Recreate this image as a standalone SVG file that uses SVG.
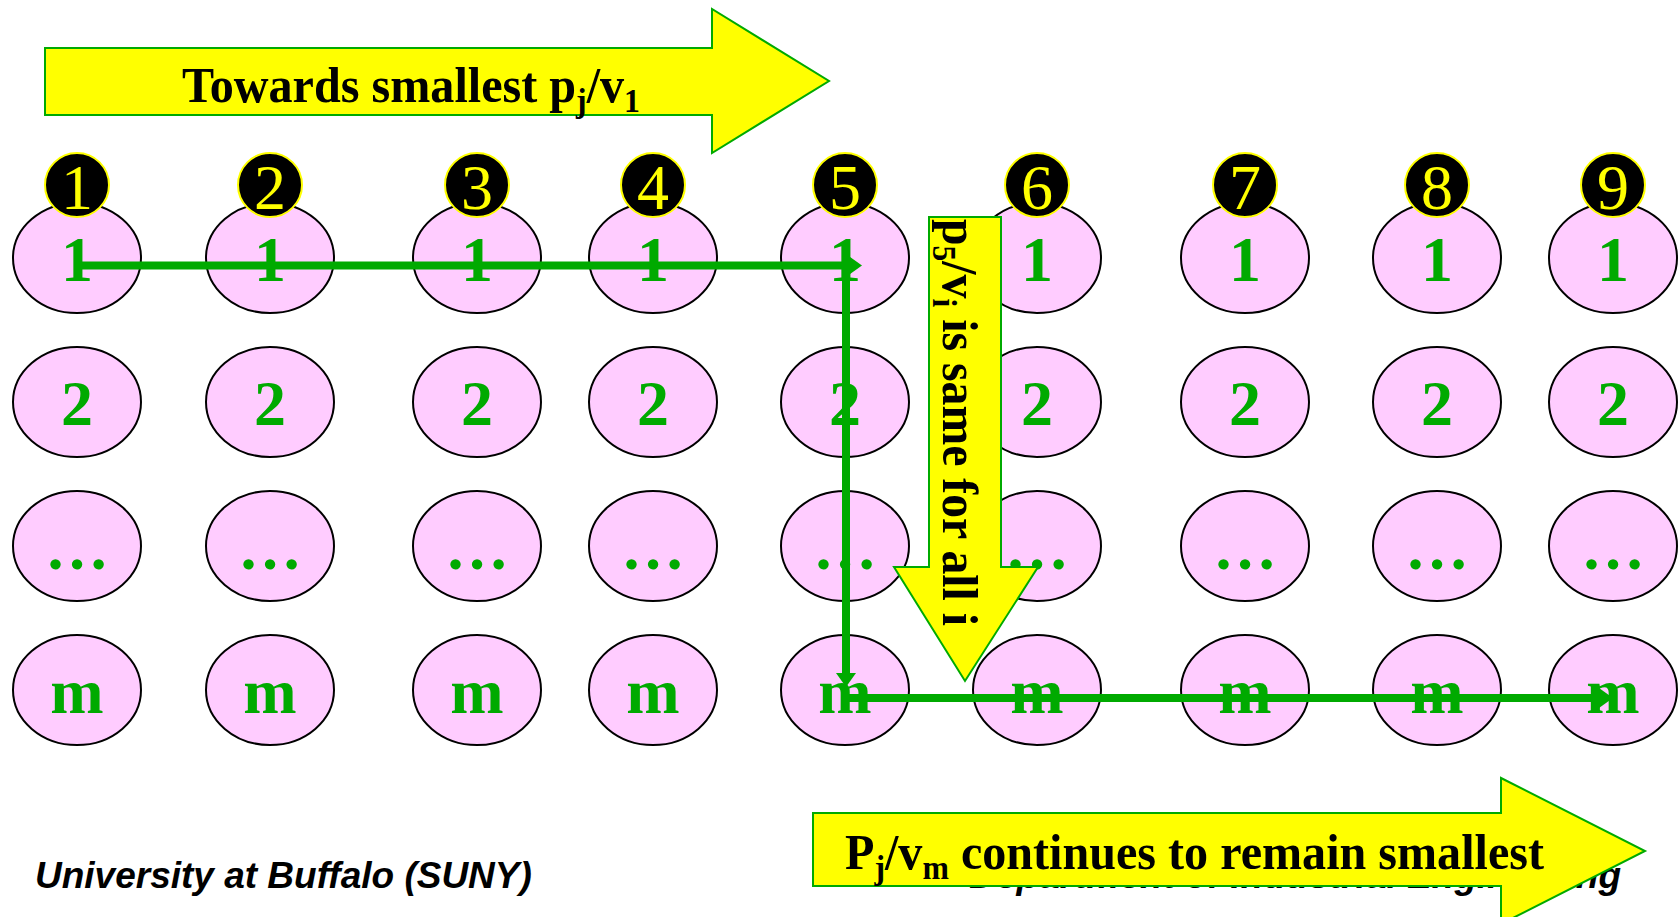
<svg xmlns="http://www.w3.org/2000/svg" width="1678" height="917" viewBox="0 0 1678 917">
<style>
.el{fill:#FFCCFF;stroke:#000;stroke-width:2}
.lb{font-family:"Liberation Serif",serif;font-weight:bold;font-size:64px;fill:#00AA00;text-anchor:middle}
.nc{fill:#000;stroke:#FFFF00;stroke-width:2}
.nt{font-family:"Liberation Serif",serif;font-size:64px;fill:#FFFF00;text-anchor:middle}
.ya{fill:#FFFF00;stroke:#00AA00;stroke-width:2}
.at{font-family:"Liberation Serif",serif;font-weight:bold;font-size:50px;fill:#000}
.ft{font-family:"Liberation Sans",Arial,sans-serif;font-weight:bold;font-style:italic;font-size:37px;fill:#000}
.cn{stroke:#00AA00;stroke-width:8;fill:none}
</style>
<defs>
<marker id="ah" markerWidth="14" markerHeight="20" refX="0" refY="10" orient="auto" markerUnits="userSpaceOnUse" viewBox="0 0 14 20">
<path d="M0,0 L14,10 L0,20 z" fill="#00AA00"/>
</marker>
</defs>
<rect width="1678" height="917" fill="#fff"/>

<g id="col1"><ellipse class="el" cx="77" cy="258" rx="64" ry="55"/><text class="lb" x="77" y="281">1</text><ellipse class="el" cx="77" cy="402" rx="64" ry="55"/><text class="lb" x="77" y="425">2</text><ellipse class="el" cx="77" cy="546" rx="64" ry="55"/><text class="lb" x="77" y="569">…</text><ellipse class="el" cx="77" cy="690" rx="64" ry="55"/><text class="lb" x="77" y="713">m</text><ellipse class="nc" cx="77" cy="185" rx="32" ry="32"/><text class="nt" x="77" y="209">1</text></g>
<g id="col2"><ellipse class="el" cx="270" cy="258" rx="64" ry="55"/><text class="lb" x="270" y="281">1</text><ellipse class="el" cx="270" cy="402" rx="64" ry="55"/><text class="lb" x="270" y="425">2</text><ellipse class="el" cx="270" cy="546" rx="64" ry="55"/><text class="lb" x="270" y="569">…</text><ellipse class="el" cx="270" cy="690" rx="64" ry="55"/><text class="lb" x="270" y="713">m</text><ellipse class="nc" cx="270" cy="185" rx="32" ry="32"/><text class="nt" x="270" y="209">2</text></g>
<g id="col3"><ellipse class="el" cx="477" cy="258" rx="64" ry="55"/><text class="lb" x="477" y="281">1</text><ellipse class="el" cx="477" cy="402" rx="64" ry="55"/><text class="lb" x="477" y="425">2</text><ellipse class="el" cx="477" cy="546" rx="64" ry="55"/><text class="lb" x="477" y="569">…</text><ellipse class="el" cx="477" cy="690" rx="64" ry="55"/><text class="lb" x="477" y="713">m</text><ellipse class="nc" cx="477" cy="185" rx="32" ry="32"/><text class="nt" x="477" y="209">3</text></g>
<g id="col4"><ellipse class="el" cx="653" cy="258" rx="64" ry="55"/><text class="lb" x="653" y="281">1</text><ellipse class="el" cx="653" cy="402" rx="64" ry="55"/><text class="lb" x="653" y="425">2</text><ellipse class="el" cx="653" cy="546" rx="64" ry="55"/><text class="lb" x="653" y="569">…</text><ellipse class="el" cx="653" cy="690" rx="64" ry="55"/><text class="lb" x="653" y="713">m</text><ellipse class="nc" cx="653" cy="185" rx="32" ry="32"/><text class="nt" x="653" y="209">4</text></g>
<g id="col5"><ellipse class="el" cx="845" cy="258" rx="64" ry="55"/><text class="lb" x="845" y="281">1</text><ellipse class="el" cx="845" cy="402" rx="64" ry="55"/><text class="lb" x="845" y="425">2</text><ellipse class="el" cx="845" cy="546" rx="64" ry="55"/><text class="lb" x="845" y="569">…</text><ellipse class="el" cx="845" cy="690" rx="64" ry="55"/><text class="lb" x="845" y="713">m</text><ellipse class="nc" cx="845" cy="185" rx="32" ry="32"/><text class="nt" x="845" y="209">5</text></g>
<g id="col6"><ellipse class="el" cx="1037" cy="258" rx="64" ry="55"/><text class="lb" x="1037" y="281">1</text><ellipse class="el" cx="1037" cy="402" rx="64" ry="55"/><text class="lb" x="1037" y="425">2</text><ellipse class="el" cx="1037" cy="546" rx="64" ry="55"/><text class="lb" x="1037" y="569">…</text><ellipse class="el" cx="1037" cy="690" rx="64" ry="55"/><text class="lb" x="1037" y="713">m</text><ellipse class="nc" cx="1037" cy="185" rx="32" ry="32"/><text class="nt" x="1037" y="209">6</text></g>
<g id="col7"><ellipse class="el" cx="1245" cy="258" rx="64" ry="55"/><text class="lb" x="1245" y="281">1</text><ellipse class="el" cx="1245" cy="402" rx="64" ry="55"/><text class="lb" x="1245" y="425">2</text><ellipse class="el" cx="1245" cy="546" rx="64" ry="55"/><text class="lb" x="1245" y="569">…</text><ellipse class="el" cx="1245" cy="690" rx="64" ry="55"/><text class="lb" x="1245" y="713">m</text><ellipse class="nc" cx="1245" cy="185" rx="32" ry="32"/><text class="nt" x="1245" y="209">7</text></g>
<g id="col8"><ellipse class="el" cx="1437" cy="258" rx="64" ry="55"/><text class="lb" x="1437" y="281">1</text><ellipse class="el" cx="1437" cy="402" rx="64" ry="55"/><text class="lb" x="1437" y="425">2</text><ellipse class="el" cx="1437" cy="546" rx="64" ry="55"/><text class="lb" x="1437" y="569">…</text><ellipse class="el" cx="1437" cy="690" rx="64" ry="55"/><text class="lb" x="1437" y="713">m</text><ellipse class="nc" cx="1437" cy="185" rx="32" ry="32"/><text class="nt" x="1437" y="209">8</text></g>
<g id="col9"><ellipse class="el" cx="1613" cy="258" rx="64" ry="55"/><text class="lb" x="1613" y="281">1</text><ellipse class="el" cx="1613" cy="402" rx="64" ry="55"/><text class="lb" x="1613" y="425">2</text><ellipse class="el" cx="1613" cy="546" rx="64" ry="55"/><text class="lb" x="1613" y="569">…</text><ellipse class="el" cx="1613" cy="690" rx="64" ry="55"/><text class="lb" x="1613" y="713">m</text><ellipse class="nc" cx="1613" cy="185" rx="32" ry="32"/><text class="nt" x="1613" y="209">9</text></g>

<g id="connectors">
<path class="cn" d="M80,265.5 H848" marker-end="url(#ah)"/>
<path class="cn" d="M846,262 V673" marker-end="url(#ah)"/>
<path class="cn" d="M846,698 H1599" marker-end="url(#ah)"/>
</g>

<g id="arrow-top">
<path class="ya" d="M45,48 H712 V9 L829,81 L712,153 V115 H45 Z"/>
<text class="at" x="182" y="102" textLength="458" lengthAdjust="spacingAndGlyphs">Towards smallest p<tspan font-size="33" dy="10">j</tspan><tspan dy="-10">/v</tspan><tspan font-size="33" dy="10">1</tspan></text>
</g>

<g id="arrow-down">
<path class="ya" d="M929,217 H1001 V567 H1038 L965,681 L894,567 H929 Z"/>
<text class="at" transform="translate(943,219) rotate(90)" x="0" y="0" textLength="407" lengthAdjust="spacingAndGlyphs">p<tspan font-size="33" dy="10">5</tspan><tspan dy="-10">/v</tspan><tspan font-size="33" dy="10">i</tspan><tspan dy="-10"> is same for all i</tspan></text>
</g>

<g id="footer">
<text class="ft" x="35" y="888">University at Buffalo (SUNY)</text>
<text class="ft" x="1621" y="888" text-anchor="end">Department of Industrial Engineering</text>
</g>

<g id="arrow-bottom">
<path class="ya" d="M813,813 H1501 V778 L1645,851 L1501,924 V886 H813 Z"/>
<text class="at" x="845" y="869" textLength="699" lengthAdjust="spacingAndGlyphs">P<tspan font-size="33" dy="10">j</tspan><tspan dy="-10">/v</tspan><tspan font-size="33" dy="10">m</tspan><tspan dy="-10"> continues to remain smallest</tspan></text>
</g>
</svg>
